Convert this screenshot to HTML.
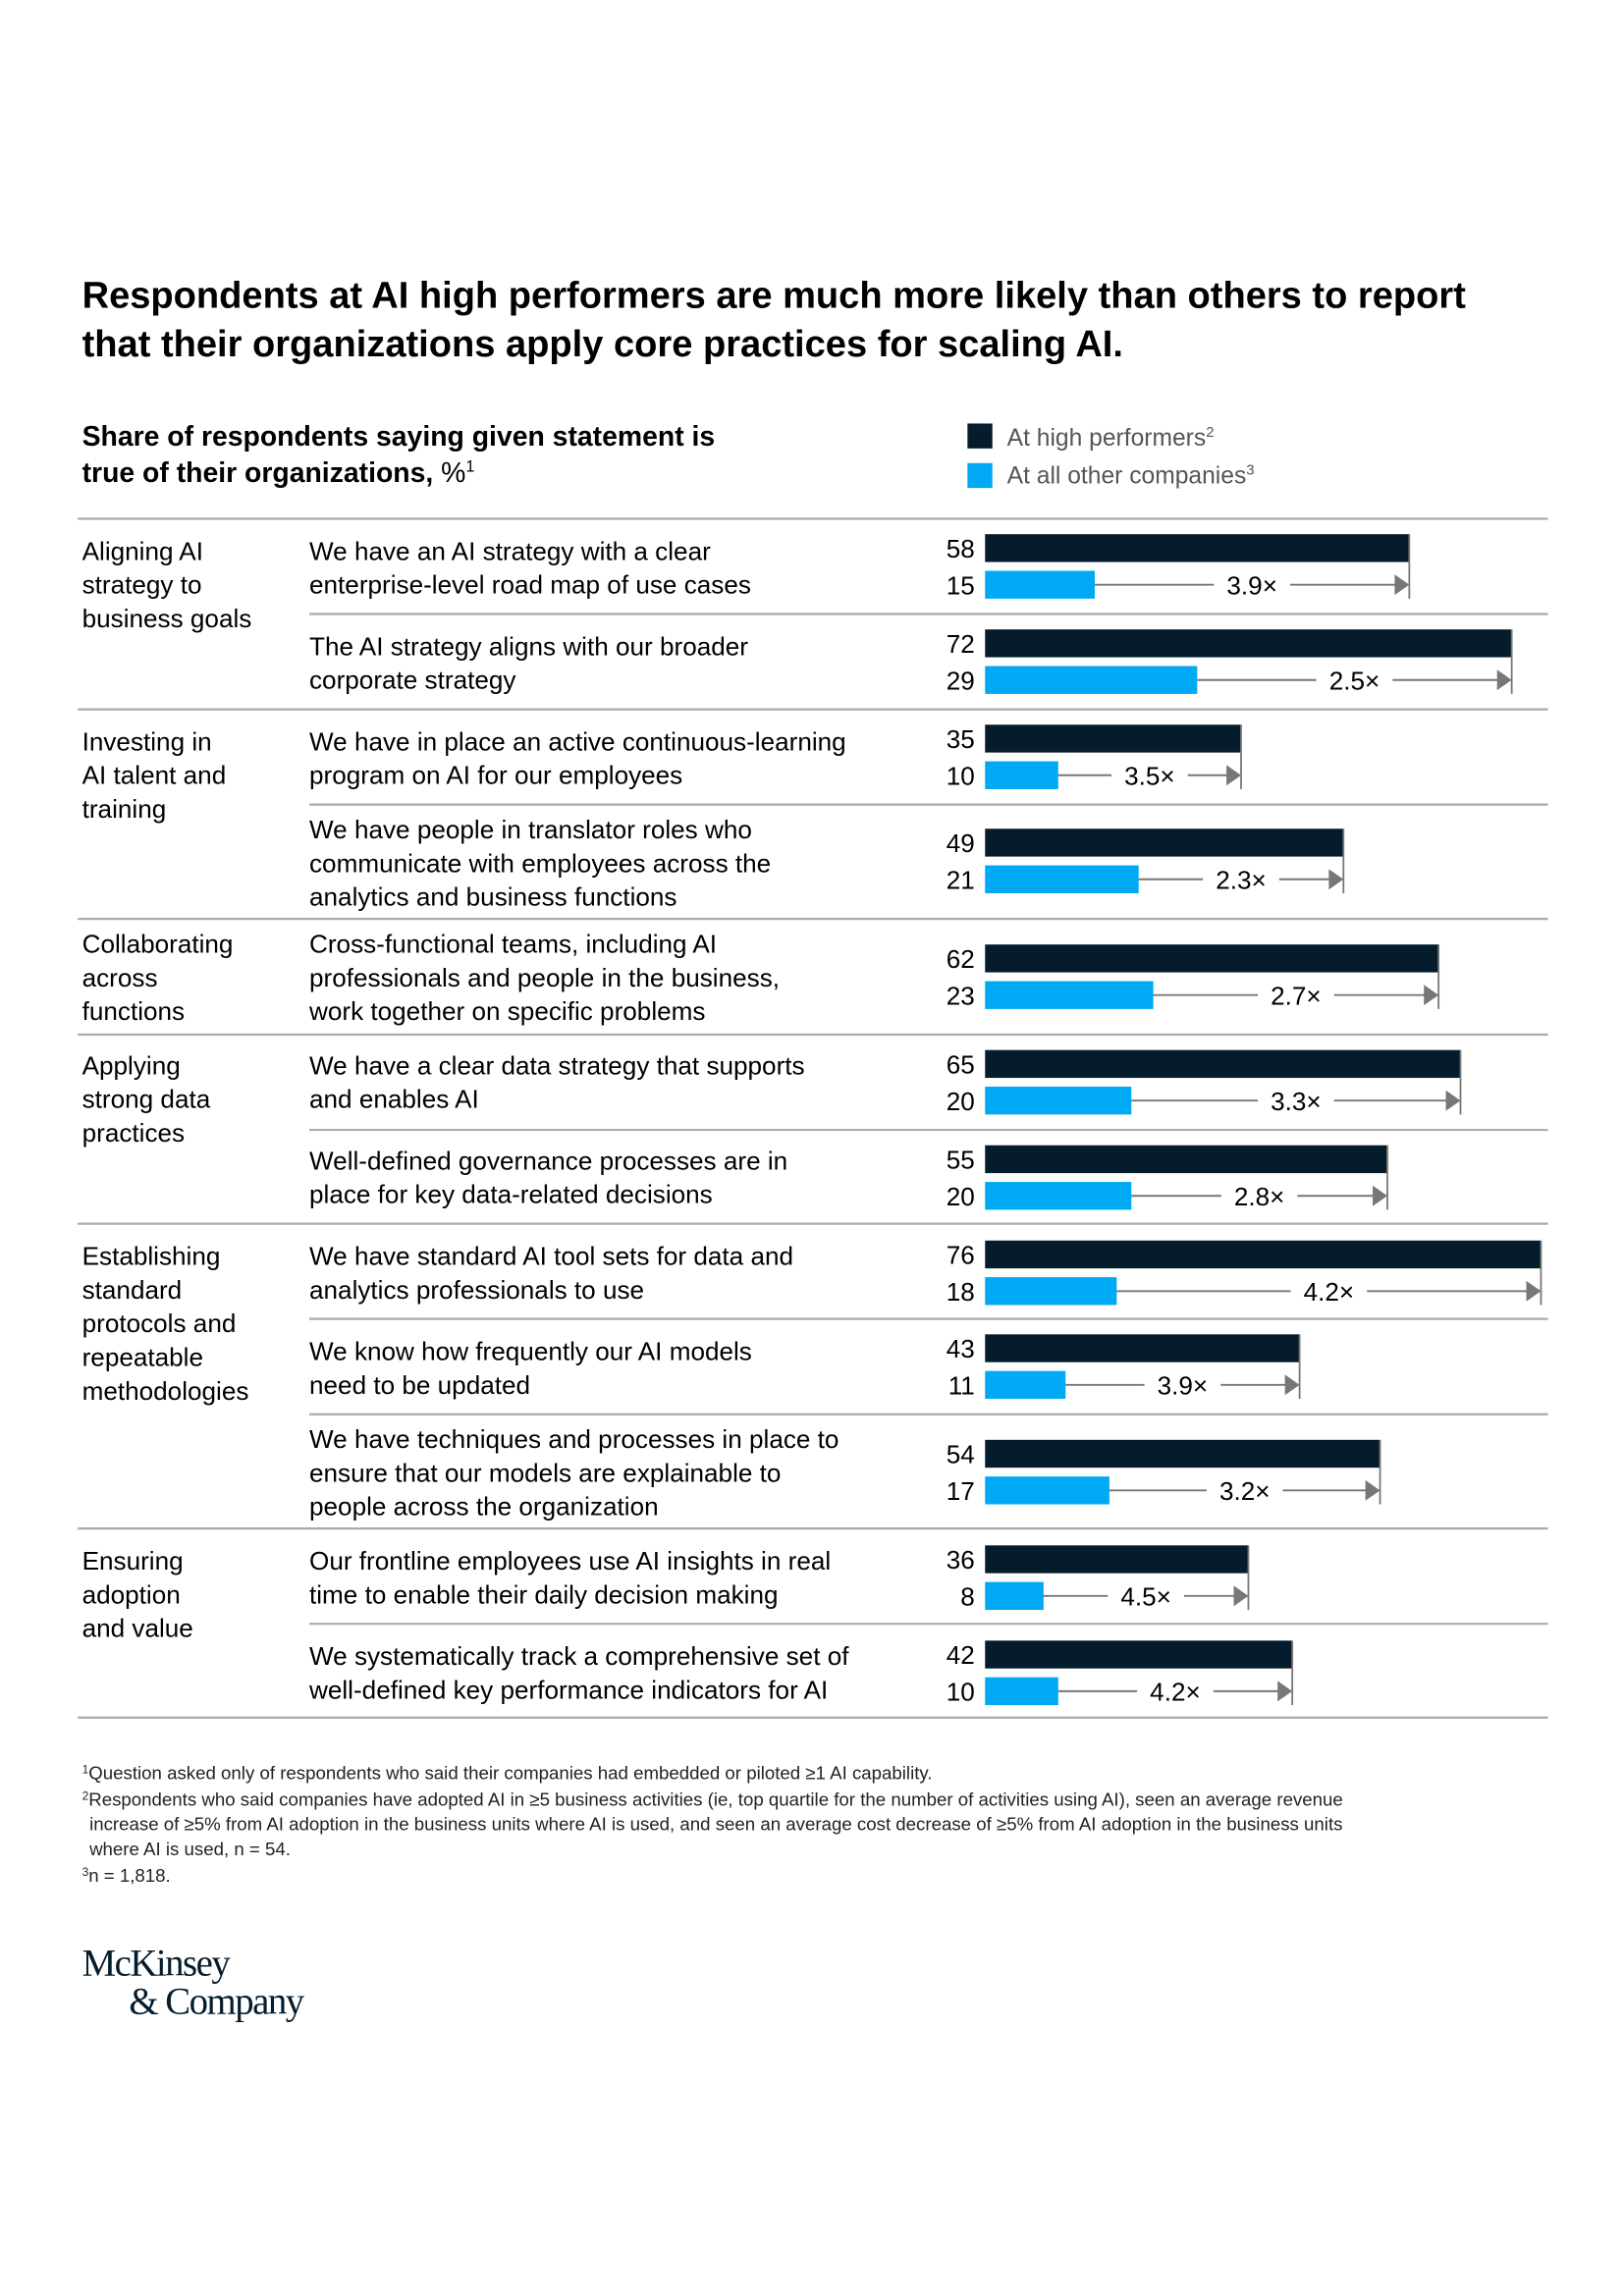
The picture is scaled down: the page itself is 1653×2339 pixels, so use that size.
<!DOCTYPE html>
<html><head><meta charset="utf-8"><style>
html,body{margin:0;padding:0;background:#fff}
svg{display:block}
text{font-family:"Liberation Sans",sans-serif}
</style></head><body>
<svg id="chart" width="1653" height="2339" viewBox="0 0 1107.2 1566.7" xmlns="http://www.w3.org/2000/svg">
<text x="56" y="210" font-size="25.5" font-weight="bold" fill="#000">Respondents at AI high performers are much more likely than others to report</text>
<text x="56" y="243" font-size="25.5" font-weight="bold" fill="#000">that their organizations apply core practices for scaling AI.</text>
<text x="56" y="304" font-size="19" font-weight="bold" fill="#000">Share of respondents saying given statement is</text>
<text x="56" y="329" font-size="19" font-weight="bold" fill="#000">true of their organizations, <tspan font-weight="normal">%</tspan><tspan font-size="11" dy="-7" font-weight="normal">1</tspan></text>
<rect x="660" y="289" width="17" height="17" fill="#051c2c"/>
<text x="687" y="304" font-size="16.5" fill="#555">At high performers<tspan font-size="10" dy="-6">2</tspan></text>
<rect x="660" y="316" width="17" height="17" fill="#00a9f4"/>
<text x="687" y="330" font-size="16.5" fill="#555">At all other companies<tspan font-size="10" dy="-6">3</tspan></text>
<g id="rows"></g>
<g font-size="12.5" fill="#222">
<text x="56" y="1214"><tspan font-size="8" dy="-4">1</tspan><tspan dy="4">Question asked only of respondents who said their companies had embedded or piloted ≥1 AI capability.</tspan></text>
<text x="56" y="1232"><tspan font-size="8" dy="-4">2</tspan><tspan dy="4">Respondents who said companies have adopted AI in ≥5 business activities (ie, top quartile for the number of activities using AI), seen an average revenue</tspan></text>
<text x="61" y="1249">increase of ≥5% from AI adoption in the business units where AI is used, and seen an average cost decrease of  ≥5% from AI adoption in the business units</text>
<text x="61" y="1266">where AI is used, n = 54.</text>
<text x="56" y="1284"><tspan font-size="8" dy="-4">3</tspan><tspan dy="4">n = 1,818.</tspan></text>
</g>
<text x="56" y="1348" style="font-family:'Liberation Serif',serif;font-size:26px;letter-spacing:-1px" fill="#051c2c">McKinsey</text>
<text x="88" y="1374" style="font-family:'Liberation Serif',serif;font-size:26px;letter-spacing:-1px" fill="#051c2c">&amp; Company</text>
</svg>
<script>
const highValues=[58,72,35,49,62,65,55,76,43,54,36,42];
const otherValues=[15,29,10,21,23,20,20,18,11,17,8,10];
const multipliers=["3.9×","2.5×","3.5×","2.3×","2.7×","3.3×","2.8×","4.2×","3.9×","3.2×","4.5×","4.2×"];
const statements=[
["We have an AI strategy with a clear","enterprise-level road map of use cases"],
["The AI strategy aligns with our broader","corporate strategy"],
["We have in place an active continuous-learning","program on AI for our employees"],
["We have people in translator roles who","communicate with employees across the","analytics and business functions"],
["Cross-functional teams, including AI","professionals and people in the business,","work together on specific problems"],
["We have a clear data strategy that supports","and enables AI"],
["Well-defined governance processes are in","place for key data-related decisions"],
["We have standard AI tool sets for data and","analytics professionals to use"],
["We know how frequently our AI models","need to be updated"],
["We have techniques and processes in place to","ensure that our models are explainable to","people across the organization"],
["Our frontline employees use AI insights in real","time to enable their daily decision making"],
["We systematically track a comprehensive set of","well-defined key performance indicators for AI"]];
const categories=[
["Aligning AI","strategy to","business goals"],
["Investing in","AI talent and","training"],
["Collaborating","across","functions"],
["Applying","strong data","practices"],
["Establishing","standard","protocols and","repeatable","methodologies"],
["Ensuring","adoption","and value"]];
const categoryStart=[0,2,4,5,7,10];
// layout (not data)
const barCenters=[374,439,504,575,654,726,791,856,920,992,1064,1129];
const textStarts=[382,447,512,572,650,733,798,863,928,988,1071,1136];
const sepLines=[[354,53],[419,211],[484,53],[549,211],[627,53],[706,53],[771,211],[835,53],[900,211],[965,211],[1043,53],[1108,211],[1172,53]];
const x0=672, pxPer=4.99, bh=19, lh=23;
const xs=v=>x0+v*pxPer;
const NS="http://www.w3.org/2000/svg";
const g=document.getElementById('rows');
function mk(tag,attrs,txt){const e=document.createElementNS(NS,tag);for(const k in attrs)e.setAttribute(k,attrs[k]);if(txt!==undefined)e.textContent=txt;g.appendChild(e);return e;}
sepLines.forEach(s=>{
 const l=mk('line',{x1:s[1],x2:1056,y1:s[0],y2:s[0],stroke:'#aaa','stroke-width':1.5});
 
 
});
categories.forEach((c,i)=>{
 c.forEach((t,j)=>{
  const e=mk('text',{x:56,y:textStarts[categoryStart[i]]+j*lh,'font-size':17.5,fill:'#000'},t);
  
  
 });
});
highValues.forEach((hv,i)=>{
 const ov=otherValues[i], yc=barCenters[i], yb=yc+25;
 statements[i].forEach((t,j)=>{
  const e=mk('text',{x:211,y:textStarts[i]+j*lh,'font-size':17.5,fill:'#000'},t);
  
  
 });
 const hb=mk('rect',{x:x0,y:yc-bh/2,width:xs(hv)-x0,height:bh,fill:'#051c2c'});
 
 
 const ob=mk('rect',{x:x0,y:yb-bh/2,width:xs(ov)-x0,height:bh,fill:'#00a9f4'});
 
 
 const hl=mk('text',{x:665,y:yc+6.5,'font-size':17.5,'text-anchor':'end',fill:'#000'},hv);
 
 
 const ol=mk('text',{x:665,y:yb+6.5,'font-size':17.5,'text-anchor':'end',fill:'#000'},ov);
 
 
 const xe=xs(hv), xb=xs(ov), mid=(xe+xb)/2;
 const tick=mk('line',{x1:xe,x2:xe,y1:yc-bh/2,y2:yb+bh/2,stroke:'#777','stroke-width':1.2});
 
 
 const a1=mk('line',{x1:xb,x2:mid-26,y1:yb,y2:yb,stroke:'#777','stroke-width':1.3});
 
 
 const a2=mk('line',{x1:mid+26,x2:xe-9,y1:yb,y2:yb,stroke:'#777','stroke-width':1.3});
 
 
 const ah=mk('polygon',{points:`${xe-10},${yb-7} ${xe},${yb} ${xe-10},${yb+7}`,fill:'#777'});
 
 
 const ml=mk('text',{x:mid,y:yb+6.5,'font-size':17.5,'text-anchor':'middle',fill:'#000'},multipliers[i]);
 
 
});
</script>
</body></html>
